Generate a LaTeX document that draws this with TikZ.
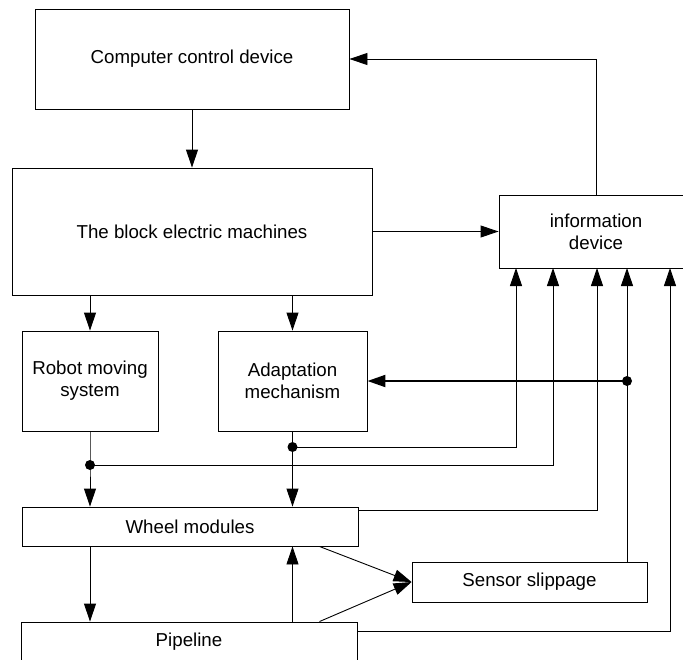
\documentclass[tikz,border=0pt]{standalone}
\usepackage{fontspec}
\setmainfont{Liberation Sans}
\usetikzlibrary{arrows.meta,positioning}

\tikzset{
  blk/.style={draw, line width=0.9pt, inner sep=0pt, align=center,
    font=\fontsize{18.7}{22}\selectfont},
  arr/.style={line width=0.9pt, -{Triangle[length=18pt,width=12pt]}}
}

\begin{document}
\begin{tikzpicture}[x=1pt,y=-1pt]
      \useasboundingbox (0,0) rectangle (683,659);
      \node[blk, minimum width=314pt, minimum height=100pt] (comp) at (192,59) {Computer control device};
      \node[blk, minimum width=360pt, minimum height=127pt] (block) at (192,231.5) {The block electric machines};
      \node[blk, minimum width=194pt, minimum height=73pt] (info) at (596,231.5) {information\\device};
      \node[blk, minimum width=136pt, minimum height=100pt] (robot) at (90,381) {Robot moving\\system};
      \node[blk, minimum width=149pt, minimum height=100pt] (adapt) at (292.5,381) {Adaptation\\mechanism};
      \node[blk, minimum width=336pt, minimum height=39pt] (wheel) at (190,526.5) {Wheel modules};
      \node[blk, minimum width=235pt, minimum height=40pt] (sensor) at (529.5,582) {Sensor slippage};
      \node[blk, minimum width=336pt, minimum height=40pt] (pipe) at (189,642) {Pipeline};

      \coordinate (jr) at (90,465);
      \coordinate (ja) at (292.5,447);
      \coordinate (jd) at (627,381);
      \coordinate (in1) at (516,268);
      \coordinate (in2) at (553,268);
      \coordinate (in3) at (597,268);
      \coordinate (in4) at (627,268);
      \coordinate (in5) at (670,268);

      \draw[arr] (comp) -- (block);
      \draw[arr] (block) -- (info);
      \draw[arr] (info.north) |- (comp.east);
      \draw[arr] (robot.north |- block.south) -- (robot);
      \draw[arr] (adapt.north |- block.south) -- (adapt);
      \draw[arr] (robot.south) -- (jr) -- (robot.south |- wheel.north);
      \draw[arr] (adapt.south) -- (ja) -- (adapt.south |- wheel.north);
      \draw[arr] (ja) -| (in1);
      \draw[arr] (jr) -| (in2);
      \draw[arr] ([yshift=-4pt]wheel.north east) -| (in3);
      \draw[arr] (sensor.north -| in4) -- (in4);
      \draw[arr, line width=2pt] (jd) -- (adapt);
      \draw[arr] ([yshift=-10pt]pipe.north east) -| (in5);
      \draw[arr] (robot.south |- wheel.south) -- (robot.south |- pipe.north);
      \draw[arr] (adapt.south |- pipe.north) -- (adapt.south |- wheel.south);
      \draw[arr] ([xshift=-39pt]wheel.south east) -- (sensor.west);
      \draw[arr] ([xshift=-38pt]pipe.north east) -- (sensor.west);
      \foreach \j in {jr,ja,jd}
        \fill (\j) circle (5pt);
\end{tikzpicture}
\end{document}
